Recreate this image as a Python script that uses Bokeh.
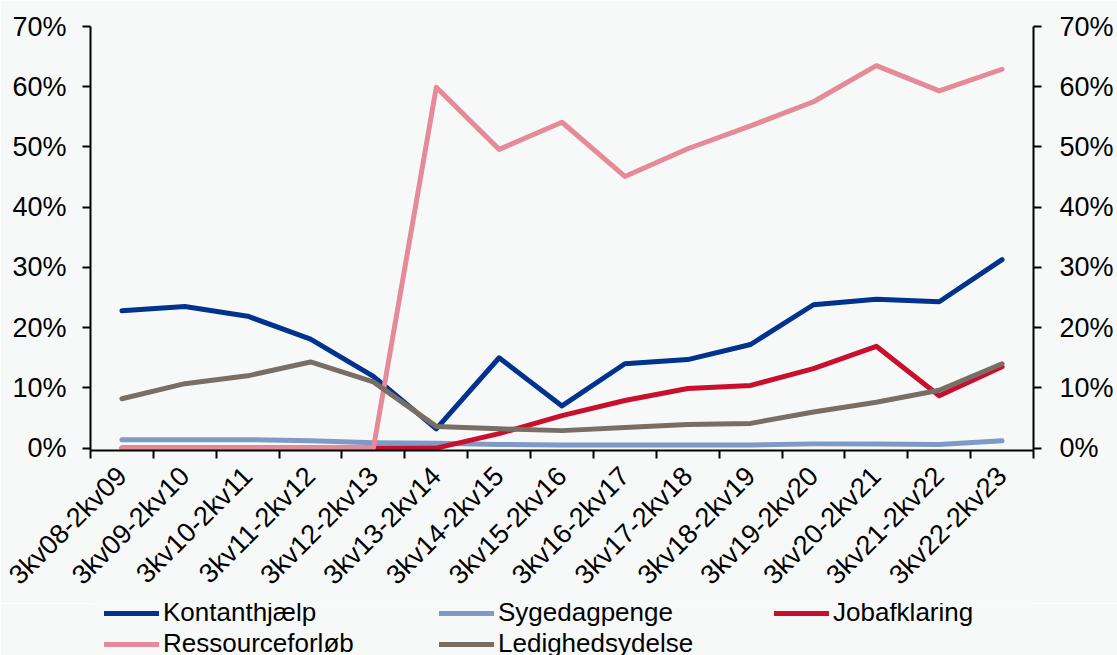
import math
from bokeh.plotting import figure
from bokeh.layouts import column
from bokeh.models import (Range1d, LinearAxis, FixedTicker, PrintfTickFormatter,
                          Legend, LegendItem)
from bokeh.embed import file_html
from bokeh.resources import INLINE

categories = ["3kv08-2kv09", "3kv09-2kv10", "3kv10-2kv11", "3kv11-2kv12", "3kv12-2kv13",
              "3kv13-2kv14", "3kv14-2kv15", "3kv15-2kv16", "3kv16-2kv17", "3kv17-2kv18",
              "3kv18-2kv19", "3kv19-2kv20", "3kv20-2kv21", "3kv21-2kv22", "3kv22-2kv23"]
kontanthjaelp = [22.8, 23.5, 21.9, 18.1, 11.9, 3.2, 15.0, 7.0, 14.0, 14.7, 17.2, 23.8, 24.7, 24.3, 31.3]
sygedagpenge = [1.4, 1.4, 1.4, 1.2, 0.9, 0.8, 0.6, 0.5, 0.5, 0.5, 0.5, 0.7, 0.7, 0.6, 1.2]
jobafklaring = [0, 0, 0, 0, 0, 0, 2.4, 5.4, 7.9, 9.9, 10.4, 13.2, 16.9, 8.7, 13.5]
ressourceforloeb = [0, 0, 0, 0, 0, 59.9, 49.6, 54.1, 45.1, 49.7, 53.5, 57.5, 63.5, 59.3, 62.9]
ledighedsydelse = [8.2, 10.7, 12.0, 14.3, 11.0, 3.6, 3.2, 2.9, 3.4, 3.9, 4.1, 6.0, 7.6, 9.6, 14.0]
y_ticks = [0, 10, 20, 30, 40, 50, 60, 70]

series = [
    ("Kontanthjælp", kontanthjaelp, "#00338D"),
    ("Sygedagpenge", sygedagpenge, "#7F9AC7"),
    ("Jobafklaring", jobafklaring, "#C8102E"),
    ("Ressourceforløb", ressourceforloeb, "#E48A99"),
    ("Ledighedsydelse", ledighedsydelse, "#776F66"),
]

BG = "#F7F9F9"
FONT = "Liberation Sans"
n = len(categories)
xs = [i + 0.5 for i in range(n)]

p = figure(frame_width=943, frame_height=424,
           x_range=Range1d(0, n), y_range=Range1d(-0.4, 70),
           output_backend="svg", toolbar_location=None, x_axis_location=None,
           min_border_left=90, min_border_right=84, min_border_top=26, min_border_bottom=140)
p.background_fill_color = BG
p.border_fill_color = BG
p.outline_line_color = None
p.xgrid.visible = False
p.ygrid.visible = False

for name, vals, col in series:
    p.line(xs, vals, line_color=col, line_width=5, line_cap="round", line_join="round")

# x axis: labels centred on categories, minor ticks on the category boundaries
xa = LinearAxis(ticker=FixedTicker(ticks=xs, minor_ticks=list(range(n + 1))),
                major_label_overrides={x: c for x, c in zip(xs, categories)},
                major_tick_out=0, major_tick_in=0,
                minor_tick_out=8, minor_tick_in=0,
                minor_tick_line_color="black", minor_tick_line_width=2,
                axis_line_color="black", axis_line_width=2,
                major_tick_line_color=None,
                major_label_orientation=math.pi / 4, major_label_standoff=13,
                major_label_text_font=FONT, major_label_text_font_size="27px",
                major_label_text_color="black")
p.add_layout(xa, "below")

def style_y(ax, standoff):
    ax.ticker = FixedTicker(ticks=y_ticks)
    ax.formatter = PrintfTickFormatter(format="%d%%")
    ax.major_tick_out = 8
    ax.major_tick_in = 0
    ax.minor_tick_out = 0
    ax.minor_tick_in = 0
    ax.axis_line_width = 2
    ax.major_tick_line_width = 2
    ax.axis_line_color = "black"
    ax.major_tick_line_color = "black"
    ax.major_label_standoff = standoff
    ax.major_label_text_font = FONT
    ax.major_label_text_font_size = "27px"
    ax.major_label_text_color = "black"

style_y(p.yaxis[0], 16)
ra = LinearAxis()
style_y(ra, 18)
p.add_layout(ra, "right")

# legend strip underneath the chart (its series sit outside its visible range)
p2 = figure(width=1117, height=56, min_border=0, output_backend="svg",
            toolbar_location=None, x_axis_location=None, y_axis_location=None,
            x_range=Range1d(0, n), y_range=Range1d(1000, 1001))
p2.background_fill_color = BG
p2.border_fill_color = BG
p2.outline_line_color = None
p2.xgrid.visible = False
p2.ygrid.visible = False
keys = []
for name, vals, col in series:
    r = p2.line(xs, vals, line_color=col, line_width=5, line_cap="round")
    keys.append(LegendItem(label=name, renderers=[r]))

legend = Legend(items=keys, location=(14, 0), orientation="horizontal", ncols=3,
                glyph_width=55, glyph_height=28, label_height=28, label_width=276,
                label_standoff=4, padding=0, margin=0, spacing=0,
                border_line_color=None, background_fill_alpha=0,
                label_text_font=FONT, label_text_font_size="26px",
                label_text_color="black")
p2.add_layout(legend)

layout = column(p, p2, spacing=0)
open("out.html", "w").write(file_html(layout, INLINE))
